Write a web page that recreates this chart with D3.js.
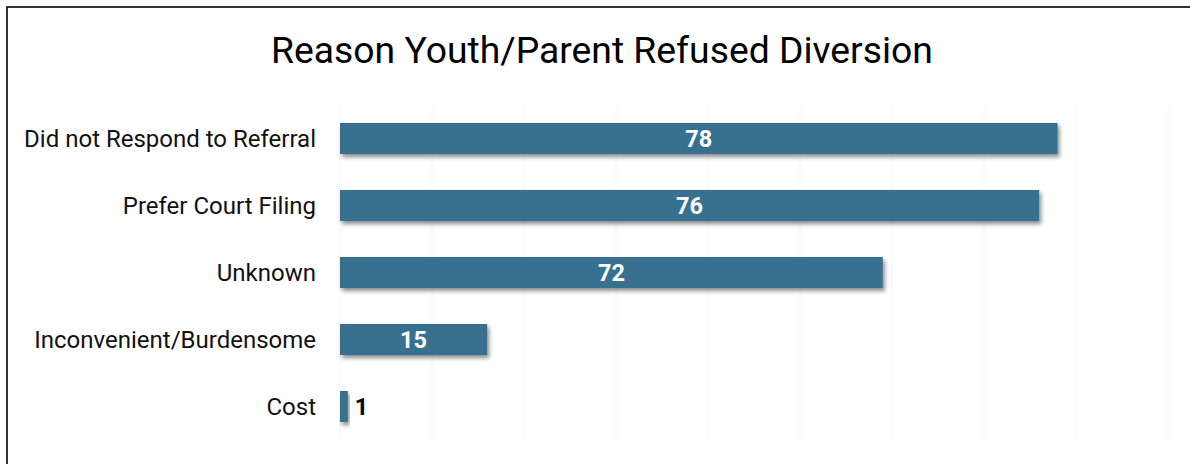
<!DOCTYPE html>
<html>
<head>
<meta charset="utf-8">
<script src="https://cdn.jsdelivr.net/npm/d3@7"></script>
<style>
  html, body { margin: 0; padding: 0; background: #fff; }
  svg { display: block; }
</style>
</head>
<body>
<svg id="chart" width="1190" height="464"></svg>
<script>
const categories = ["Did not Respond to Referral", "Prefer Court Filing", "Unknown", "Inconvenient/Burdensome", "Cost"];
const barValues = [78, 76, 59, 16, 0.85];
const valueLabels = ["78", "76", "72", "15", "1"];
const gridTicks = [0, 10, 20, 30, 40, 50, 60, 70, 80, 90];
const title = "Reason Youth/Parent Refused Diversion";

const svg = d3.select("#chart");
const W = 1190, H = 464;

const defs = svg.append("defs");
const f = defs.append("filter").attr("id", "shadow")
  .attr("x", "-10%").attr("y", "-40%").attr("width", "130%").attr("height", "200%");
f.append("feDropShadow").attr("dx", 2).attr("dy", 3).attr("stdDeviation", 2)
  .attr("flood-color", "#000").attr("flood-opacity", 0.45);

// outer border
svg.append("rect").attr("x", 7).attr("y", 7).attr("width", W + 10).attr("height", H + 10)
  .attr("fill", "#fff").attr("stroke", "#000").attr("stroke-width", 1.6);

const x = d3.scaleLinear().domain([0, 90]).range([340, 1168]);
const y = d3.scaleBand().domain(categories).range([105, 440]).paddingInner(0.537).paddingOuter(0.2685);

// grid
svg.append("g").selectAll("line").data(gridTicks).join("line")
  .attr("x1", d => x(d)).attr("x2", d => x(d))
  .attr("y1", 105).attr("y2", 440)
  .attr("stroke", "#f6f6f6").attr("stroke-width", 1);

// title
svg.append("text").attr("x", 602).attr("y", 63).attr("text-anchor", "middle")
  .attr("font-family", "Roboto").attr("font-size", 37.3).attr("fill", "#000")
  .text(title);

// category labels
svg.append("g").selectAll("text").data(categories).join("text")
  .attr("x", 316).attr("y", d => y(d) + y.bandwidth() / 2)
  .attr("dy", "0.36em").attr("text-anchor", "end")
  .attr("font-family", "Roboto").attr("font-size", 24).attr("fill", "#111")
  .text(d => d);

// bars
svg.append("g").selectAll("rect").data(categories).join("rect")
  .attr("x", x(0)).attr("y", d => y(d))
  .attr("width", (d, i) => x(barValues[i]) - x(0))
  .attr("height", y.bandwidth())
  .attr("fill", "#39718f")
  .attr("filter", "url(#shadow)");

// value labels
svg.append("g").selectAll("text").data(categories).join("text")
  .attr("x", (d, i) => {
    const w = x(barValues[i]) - x(0);
    return w > 40 ? (x(0) + x(barValues[i])) / 2 : x(barValues[i]) + 7;
  })
  .attr("y", d => y(d) + y.bandwidth() / 2)
  .attr("dy", "0.36em")
  .attr("text-anchor", (d, i) => (x(barValues[i]) - x(0)) > 40 ? "middle" : "start")
  .attr("font-family", "Roboto").attr("font-weight", "bold").attr("font-size", 23.5)
  .attr("fill", (d, i) => (x(barValues[i]) - x(0)) > 40 ? "#fff" : "#000")
  .text((d, i) => valueLabels[i]);
</script>
</body>
</html>
